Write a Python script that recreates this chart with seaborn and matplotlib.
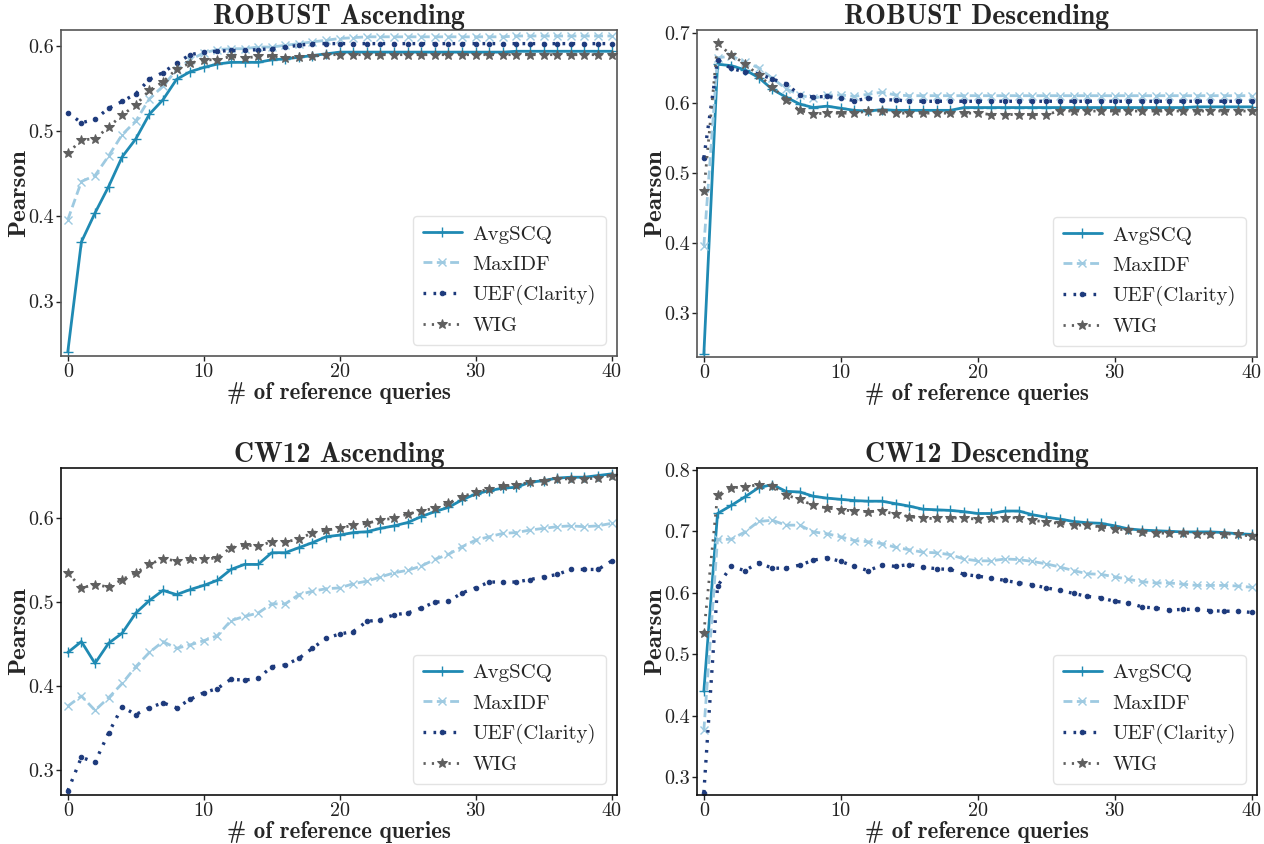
import numpy as np
import pandas as pd
import matplotlib
matplotlib.use("Agg")
import matplotlib.pyplot as plt
import seaborn as sns

x_queries = list(range(41))

# ROBUST Ascending
ra_avgscq = [0.241, 0.370, 0.404, 0.435, 0.470, 0.491, 0.520, 0.537, 0.561, 0.570,
             0.575, 0.579, 0.581, 0.581, 0.581, 0.584, 0.585, 0.587, 0.589, 0.591,
             0.593, 0.593, 0.593, 0.593, 0.593, 0.593, 0.593, 0.593, 0.593, 0.593,
             0.593, 0.593, 0.593, 0.594, 0.594, 0.594, 0.594, 0.594, 0.594, 0.594, 0.594]
ra_maxidf = [0.396, 0.441, 0.448, 0.471, 0.496, 0.512, 0.538, 0.553, 0.572, 0.584,
             0.592, 0.596, 0.597, 0.597, 0.599, 0.599, 0.601, 0.603, 0.605, 0.607,
             0.609, 0.610, 0.611, 0.611, 0.611, 0.611, 0.611, 0.611, 0.611, 0.611,
             0.611, 0.611, 0.611, 0.612, 0.612, 0.612, 0.612, 0.612, 0.612, 0.612, 0.612]
ra_uef = [0.522, 0.510, 0.514, 0.527, 0.535, 0.544, 0.561, 0.569, 0.580, 0.590,
          0.593, 0.594, 0.595, 0.595, 0.596, 0.597, 0.599, 0.601, 0.603, 0.603,
          0.603, 0.603, 0.603, 0.603, 0.603, 0.603, 0.603, 0.603, 0.603, 0.603,
          0.603, 0.603, 0.603, 0.603, 0.603, 0.603, 0.603, 0.603, 0.603, 0.603, 0.603]
ra_wig = [0.474, 0.490, 0.491, 0.505, 0.519, 0.531, 0.548, 0.558, 0.573, 0.580,
          0.584, 0.584, 0.588, 0.586, 0.588, 0.588, 0.586, 0.587, 0.588, 0.590,
          0.590, 0.590, 0.590, 0.590, 0.590, 0.590, 0.590, 0.590, 0.590, 0.590,
          0.590, 0.590, 0.590, 0.590, 0.590, 0.590, 0.590, 0.590, 0.590, 0.590, 0.590]

# ROBUST Descending
rd_avgscq = [0.241, 0.656, 0.654, 0.648, 0.637, 0.620, 0.609, 0.599, 0.594, 0.596,
             0.593, 0.590, 0.589, 0.591, 0.590, 0.590, 0.590, 0.590, 0.590, 0.594,
             0.594, 0.594, 0.594, 0.594, 0.594, 0.594, 0.594, 0.594, 0.594, 0.594,
             0.594, 0.594, 0.594, 0.594, 0.594, 0.594, 0.595, 0.595, 0.595, 0.595, 0.595]
rd_maxidf = [0.396, 0.665, 0.668, 0.659, 0.651, 0.636, 0.621, 0.612, 0.607, 0.612,
             0.612, 0.610, 0.613, 0.616, 0.612, 0.611, 0.611, 0.611, 0.611, 0.611,
             0.611, 0.611, 0.611, 0.611, 0.611, 0.611, 0.611, 0.611, 0.611, 0.611,
             0.611, 0.611, 0.611, 0.611, 0.611, 0.611, 0.611, 0.611, 0.611, 0.611, 0.611]
rd_uef = [0.522, 0.662, 0.650, 0.645, 0.642, 0.635, 0.628, 0.612, 0.609, 0.610,
          0.607, 0.604, 0.607, 0.605, 0.605, 0.603, 0.603, 0.603, 0.603, 0.603,
          0.603, 0.603, 0.603, 0.603, 0.603, 0.603, 0.603, 0.603, 0.603, 0.603,
          0.603, 0.603, 0.603, 0.603, 0.603, 0.603, 0.603, 0.603, 0.603, 0.603, 0.603]
rd_wig = [0.474, 0.686, 0.669, 0.657, 0.640, 0.624, 0.605, 0.590, 0.585, 0.586,
          0.586, 0.586, 0.589, 0.589, 0.586, 0.586, 0.586, 0.586, 0.586, 0.586,
          0.586, 0.584, 0.584, 0.584, 0.584, 0.584, 0.589, 0.589, 0.589, 0.589,
          0.589, 0.589, 0.589, 0.589, 0.589, 0.589, 0.589, 0.589, 0.589, 0.589, 0.589]

# CW12 Ascending
ca_avgscq = [0.440, 0.453, 0.427, 0.451, 0.463, 0.487, 0.502, 0.514, 0.509, 0.515,
             0.520, 0.526, 0.539, 0.545, 0.545, 0.559, 0.559, 0.565, 0.571, 0.578,
             0.580, 0.583, 0.584, 0.588, 0.591, 0.595, 0.602, 0.608, 0.613, 0.622,
             0.629, 0.633, 0.636, 0.637, 0.643, 0.645, 0.648, 0.649, 0.649, 0.651, 0.653]
ca_maxidf = [0.376, 0.388, 0.371, 0.386, 0.403, 0.423, 0.440, 0.453, 0.445, 0.449,
             0.454, 0.460, 0.478, 0.483, 0.487, 0.498, 0.498, 0.509, 0.513, 0.516,
             0.517, 0.522, 0.525, 0.530, 0.535, 0.538, 0.543, 0.551, 0.557, 0.566,
             0.574, 0.578, 0.582, 0.583, 0.586, 0.588, 0.590, 0.591, 0.590, 0.591, 0.594]
ca_uef = [0.275, 0.315, 0.309, 0.344, 0.375, 0.366, 0.374, 0.380, 0.374, 0.384,
          0.392, 0.397, 0.408, 0.407, 0.409, 0.423, 0.425, 0.433, 0.445, 0.457,
          0.462, 0.465, 0.477, 0.479, 0.485, 0.487, 0.493, 0.500, 0.501, 0.511,
          0.517, 0.524, 0.524, 0.524, 0.527, 0.530, 0.533, 0.539, 0.539, 0.539, 0.549]
ca_wig = [0.535, 0.517, 0.521, 0.518, 0.527, 0.535, 0.545, 0.552, 0.549, 0.551,
          0.551, 0.553, 0.565, 0.568, 0.567, 0.572, 0.572, 0.575, 0.583, 0.586,
          0.588, 0.592, 0.594, 0.598, 0.600, 0.605, 0.609, 0.612, 0.618, 0.626,
          0.631, 0.635, 0.638, 0.640, 0.643, 0.645, 0.647, 0.647, 0.647, 0.648, 0.651]

# CW12 Descending
cd_avgscq = [0.440, 0.729, 0.742, 0.756, 0.771, 0.776, 0.765, 0.764, 0.757, 0.754,
             0.752, 0.750, 0.749, 0.749, 0.745, 0.741, 0.736, 0.735, 0.734, 0.732,
             0.729, 0.729, 0.733, 0.733, 0.727, 0.723, 0.720, 0.716, 0.714, 0.713,
             0.709, 0.704, 0.702, 0.701, 0.700, 0.699, 0.699, 0.699, 0.698, 0.696, 0.695]
cd_maxidf = [0.376, 0.687, 0.687, 0.699, 0.716, 0.718, 0.710, 0.710, 0.699, 0.696,
             0.691, 0.685, 0.683, 0.680, 0.674, 0.670, 0.666, 0.665, 0.662, 0.655,
             0.652, 0.652, 0.655, 0.654, 0.651, 0.647, 0.642, 0.636, 0.631, 0.630,
             0.626, 0.622, 0.618, 0.616, 0.616, 0.614, 0.612, 0.612, 0.612, 0.611, 0.609]
cd_uef = [0.275, 0.611, 0.643, 0.636, 0.649, 0.640, 0.640, 0.645, 0.653, 0.657,
          0.651, 0.643, 0.636, 0.645, 0.643, 0.646, 0.642, 0.639, 0.638, 0.630,
          0.627, 0.624, 0.620, 0.616, 0.613, 0.608, 0.604, 0.599, 0.594, 0.592,
          0.586, 0.584, 0.577, 0.575, 0.572, 0.573, 0.573, 0.571, 0.570, 0.570, 0.568]
cd_wig = [0.535, 0.759, 0.771, 0.772, 0.776, 0.774, 0.759, 0.752, 0.742, 0.738,
          0.735, 0.733, 0.732, 0.733, 0.728, 0.724, 0.721, 0.721, 0.722, 0.721,
          0.720, 0.721, 0.722, 0.722, 0.718, 0.715, 0.713, 0.710, 0.710, 0.707,
          0.704, 0.702, 0.699, 0.697, 0.697, 0.697, 0.696, 0.696, 0.696, 0.695, 0.692]

series_names = ["AvgSCQ", "MaxIDF", "UEF(Clarity)", "WIG"]
panel_titles = ["ROBUST Ascending", "ROBUST Descending", "CW12 Ascending", "CW12 Descending"]
panel_data = [
    [ra_avgscq, ra_maxidf, ra_uef, ra_wig],
    [rd_avgscq, rd_maxidf, rd_uef, rd_wig],
    [ca_avgscq, ca_maxidf, ca_uef, ca_wig],
    [cd_avgscq, cd_maxidf, cd_uef, cd_wig],
]
panel_ylims = [(0.236, 0.619), (0.237, 0.705), (0.27, 0.66), (0.271, 0.803)]
panel_yticks = [[0.3, 0.4, 0.5, 0.6], [0.3, 0.4, 0.5, 0.6, 0.7],
                [0.3, 0.4, 0.5, 0.6], [0.3, 0.4, 0.5, 0.6, 0.7, 0.8]]
x_ticks = [0, 10, 20, 30, 40]

styles = {
    "AvgSCQ": dict(color="#1f8ab3", linestyle="-", marker="+", linewidth=2.0,
                   markersize=6.5, markeredgewidth=1.0, markeredgecolor="#1f8ab3"),
    "MaxIDF": dict(color="#9ecae1", linestyle=(0, (3.2, 1.6)), marker="x", linewidth=2.0,
                   markersize=5.5, markeredgewidth=1.0, markeredgecolor="#9ecae1"),
    "UEF(Clarity)": dict(color="#1d3a7c", linestyle=(0, (0.8, 2.2)), marker=".", linewidth=2.4,
                         markersize=6.5, markeredgecolor="#1d3a7c", markerfacecolor="#1d3a7c"),
    "WIG": dict(color="#5f5f5f", linestyle=(0, (0.8, 2.2)), marker="*", linewidth=2.0,
                markersize=7, markeredgecolor="#5f5f5f", markerfacecolor="#5f5f5f"),
}

sns.set_theme(style="ticks")
plt.rcParams["font.family"] = ["cmr10", "DejaVu Serif"]
plt.rcParams["mathtext.fontset"] = "cm"

fig = plt.figure(figsize=(12.64, 8.44), dpi=100)
W, H = 1264.0, 844.0
boxes = [(61, 30, 617, 356), (697, 30, 1257, 357), (61, 468, 617, 795), (697, 468, 1257, 795)]

for i, (l, t, r, b) in enumerate(boxes):
    ax = fig.add_axes([l / W, 1 - b / H, (r - l) / W, (b - t) / H])
    frame_col = "#555555" if i < 2 else "#111111"
    for name, vals in zip(series_names, panel_data[i]):
        df = pd.DataFrame({"x": x_queries, "y": vals})
        sns.lineplot(data=df, x="x", y="y", ax=ax, label=name, **styles[name])
    ax.set_xlim(-0.5, 40.4)
    ax.set_ylim(*panel_ylims[i])
    ax.set_xticks(x_ticks)
    ax.set_xticklabels([str(v) for v in x_ticks])
    ax.set_yticks(panel_yticks[i])
    ax.set_yticklabels([f"{v:.1f}" for v in panel_yticks[i]])
    ax.tick_params(labelsize=14.5, length=3.5, width=1, pad=1.5, colors="#222222")
    ax.set_title(panel_titles[i], fontsize=20, fontfamily="cmb10", pad=1)
    ax.set_xlabel("# of reference queries", fontsize=16.5, fontfamily="cmb10", labelpad=1)
    ax.set_ylabel("Pearson", fontsize=18, fontfamily="cmb10")
    ax.yaxis.set_label_coords(-0.056, 0.5)
    for sp in ax.spines.values():
        sp.set_color(frame_col)
        sp.set_linewidth(1.2)
    leg = ax.legend(loc="lower right", fontsize=15, handlelength=1.9, handletextpad=0.5,
                    frameon=True, fancybox=True, borderpad=0.45, labelspacing=0.55,
                    borderaxespad=0.55)
    leg.get_frame().set_edgecolor("#dddddd")
    leg.get_frame().set_facecolor("white")

fig.savefig("out.png", dpi=100)
